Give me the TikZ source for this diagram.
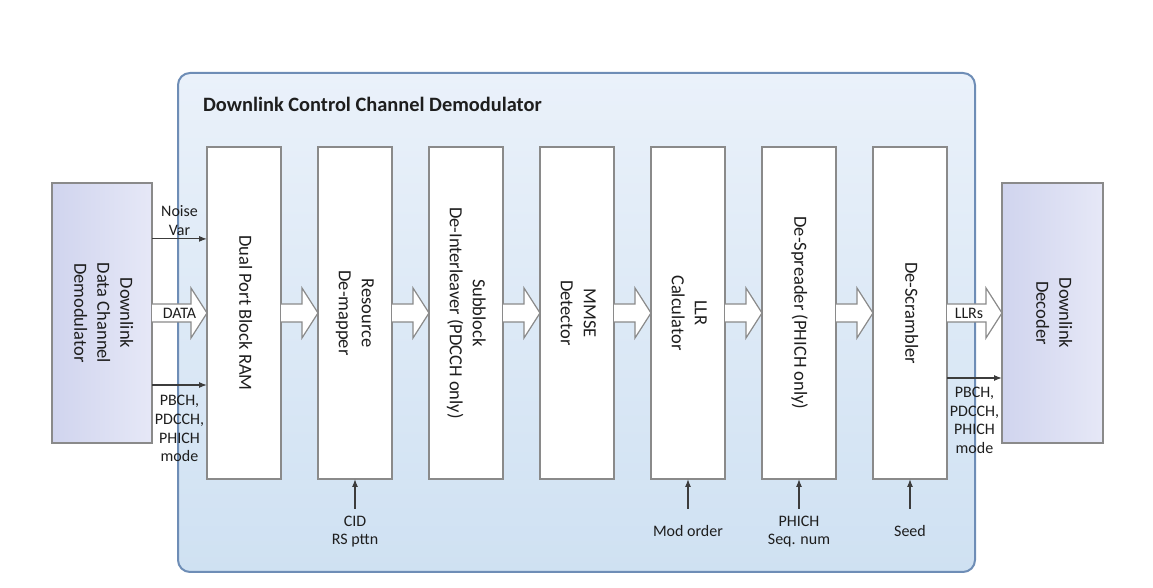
\documentclass[tikz,border=0pt]{standalone}
\usepackage{fontspec}
\setmainfont{Carlito}
\usepackage{xcolor}
\usepackage{tikz}
\usetikzlibrary{positioning, arrows.meta, calc}
\definecolor{frameblue}{HTML}{6E8DB6}
\definecolor{paneltop}{HTML}{EAF1FA}
\definecolor{panelbot}{HTML}{CFE1F2}
\definecolor{extdark}{HTML}{D0D4EE}
\definecolor{extlight}{HTML}{E6E8F7}
\definecolor{boxline}{HTML}{8A8A8A}
\definecolor{wireclr}{HTML}{3C3C3C}
\definecolor{inkclr}{HTML}{1E1E1E}
\newcommand{\vtext}[1]{\rotatebox{-90}{\begin{tabular}{@{}c@{}}#1\end{tabular}}}
\newcommand{\fatarrow}[2]{%
  \draw[fatline] ($(#1.east)+(0,-9)$) -- ($(#2.west)+(-16,-9)$)
    -- ($(#2.west)+(-16,-25)$) -- (#2.west) -- ($(#2.west)+(-16,25)$)
    -- ($(#2.west)+(-16,9)$) -- ($(#1.east)+(0,9)$);}

\begin{document}
\begin{tikzpicture}[
  x=0.5pt, y=-0.5pt,
  panel/.style={draw=frameblue, line width=1pt, rounded corners=6pt,
              top color=paneltop, bottom color=panelbot,
              minimum width=398.5pt, minimum height=249.5pt,
              inner sep=0pt, outer sep=0pt},
  stage/.style={draw=boxline, line width=0.6pt, fill=white,
              minimum width=37pt, minimum height=166pt, inner sep=0pt,
              outer sep=0pt, text=inkclr,
              font=\fontsize{9.25}{11.5}\selectfont},
  extbox/.style={draw=boxline, line width=0.6pt,
              left color=extdark, right color=extlight,
              minimum height=130pt, inner sep=0pt, outer sep=0pt,
              text=inkclr, font=\fontsize{9.25}{11.5}\selectfont},
  sig/.style={align=center, inner sep=1.5pt, text=inkclr,
              font=\fontsize{8}{9.3}\selectfont},
  parm/.style={minimum height=22pt},
  wire/.style={->, draw=wireclr, line width=0.6pt},
  fatline/.style={draw=boxline, line width=0.6pt, fill=white,
              line join=miter},
  >={Latex[length=4pt,width=3pt]}
]
  \useasboundingbox (0,0) rectangle (1153,588);

  % Container
  \node[panel] (demod) at (576.5,322.5) {};
  \node[anchor=west, text=inkclr,
        font=\fontsize{10.2}{12}\selectfont\bfseries]
    (title) at ([xshift=9pt, yshift=-15.5pt]demod.north west)
    {Downlink Control Channel Demodulator};

  % Processing chain
  \node[stage] (ram) at (244,313) {\vtext{Dual Port Block RAM}};
  \node[stage, right=18.5pt of ram] (resmap) {\vtext{Resource\\De-mapper}};
  \node[stage, right=18.5pt of resmap] (deint)
    {\vtext{Subblock\\De-Interleaver (PDCCH only)}};
  \node[stage, right=18.5pt of deint] (mmse) {\vtext{MMSE\\Detector}};
  \node[stage, right=18.5pt of mmse] (llr) {\vtext{LLR\\Calculator}};
  \node[stage, right=18.5pt of llr] (despr)
    {\vtext{De-Spreader (PHICH only)}};
  \node[stage, right=18.5pt of despr] (descr) {\vtext{De-Scrambler}};

  % Outside blocks
  \node[extbox, minimum width=50pt] (dlchan) at (102,313)
    {\vtext{Downlink\\Data Channel\\Demodulator}};
  \node[extbox, minimum width=50.5pt] (dldec) at (1052.5,313)
    {\vtext{Downlink\\Decoder}};

  % Data path
  \fatarrow{dlchan}{ram}
  \fatarrow{ram}{resmap}
  \fatarrow{resmap}{deint}
  \fatarrow{deint}{mmse}
  \fatarrow{mmse}{llr}
  \fatarrow{llr}{despr}
  \fatarrow{despr}{descr}
  \fatarrow{descr}{dldec}
  \node[sig] (datalbl) at ($(dlchan.east)!0.5!(ram.west)$) {DATA};
  \node[sig] (llrlbl) at ($(descr.east)!0.4!(dldec.west)$) {LLRs};

  % Side inputs, left
  \coordinate (nvin) at ($(dlchan.north east)!0.215!(dlchan.south east)$);
  \coordinate (modein) at ($(dlchan.north east)!0.777!(dlchan.south east)$);
  \draw[wire] (nvin) -- (nvin -| ram.west);
  \draw[wire] (modein) -- (modein -| ram.west);
  \node[sig, anchor=south] (nvlbl) at ($(nvin)!0.5!(nvin -| ram.west)$)
    {Noise\\Var};
  \node[sig, anchor=north, yshift=-3.5pt] (modelbl)
    at ($(modein)!0.5!(modein -| ram.west)$) {PBCH,\\PDCCH,\\PHICH\\mode};

  % Side output, right
  \coordinate (modeout) at ($(dldec.north west)!0.75!(dldec.south west)$);
  \draw[wire] (modeout -| descr.east) -- (modeout);
  \node[sig, anchor=north, yshift=-3pt] (outlbl)
    at ($(modeout -| descr.east)!0.5!(modeout)$) {PBCH,\\PDCCH,\\PHICH\\mode};

  % Parameters from below
  \node[sig, parm, below=15pt of resmap] (cidlbl) {CID\\RS pttn};
  \node[sig, parm, below=15pt of llr] (modlbl) {Mod order};
  \node[sig, parm, below=15pt of despr] (seqlbl) {PHICH\\Seq. num};
  \node[sig, parm, below=15pt of descr] (seedlbl) {Seed};
  \draw[wire] (cidlbl.north) -- (resmap.south);
  \draw[wire] (modlbl.north) -- (llr.south);
  \draw[wire] (seqlbl.north) -- (despr.south);
  \draw[wire] (seedlbl.north) -- (descr.south);
\end{tikzpicture}
\end{document}
